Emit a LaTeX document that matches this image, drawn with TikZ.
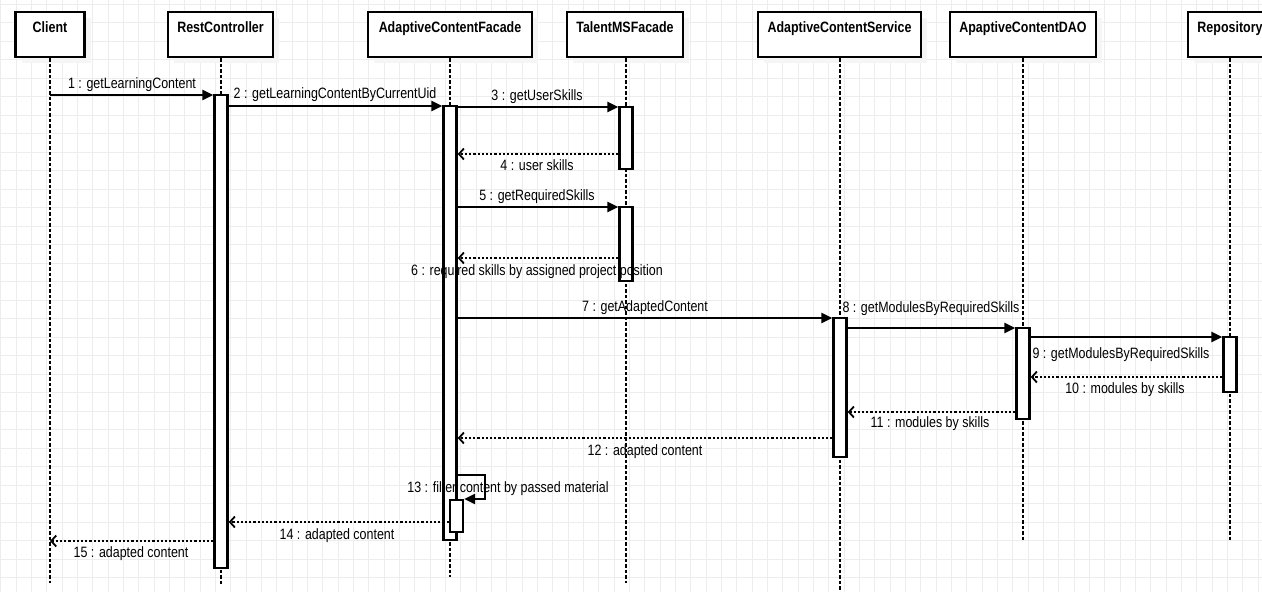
\documentclass[tikz,border=0pt]{standalone}
\usepackage{fontspec}
\setmainfont{Liberation Sans}[FakeStretch=0.83]
\usetikzlibrary{arrows.meta}
\tikzset{
  gridline/.style={draw=black!7, line width=0.7pt},
  actorbox/.style={draw=black, line width=2.4pt, fill=white, rectangle, inner sep=0pt, minimum height=45pt},
  actorshadow/.style={fill=black!4, draw=none, rectangle, inner sep=0pt, minimum height=45pt},
  actortitle/.style={anchor=base, inner sep=0pt, font=\fontsize{15}{18}\selectfont\bfseries},
  lifeline/.style={draw=black, line width=1.7pt, dash pattern=on 3.5pt off 2pt},
  actbox/.style={draw=black, line width=2.4pt, fill=white, rectangle, inner sep=0pt, minimum width=13pt},
  callmsg/.style={draw=black, line width=2.4pt, -{Triangle[length=11pt,width=10pt]}},
  retmsg/.style={draw=black, line width=2.4pt, dash pattern=on 2.2pt off 2pt, -{Straight Barb[length=5pt,width=11pt,line width=1.8pt]}},
  msglabel/.style={anchor=base, inner sep=0pt, font=\fontsize{15}{18}\selectfont}
}
\begin{document}
\begin{tikzpicture}[x=1pt,y=-1pt]
\useasboundingbox (0,0) rectangle (1262,592);
\fill[white] (0,0) rectangle (1262,592);
% grid
\foreach \i in {0,...,82} { \draw[gridline] (0.8+\i*15.33,0) -- (0.8+\i*15.33,592); }
\foreach \j in {0,...,32} { \draw[gridline] (0,4.2+\j*18.5) -- (1262,4.2+\j*18.5); }

% header shadows
\foreach \cx/\w in {50/69,220.5/105,450/164,625/116,839.5/163,1023/146,1230/84}
  { \node[actorshadow, minimum width=\w pt] at (\cx+6,34.5+6) {}; }

% header boxes
\node[actorbox, minimum width=69pt]  (client) at (50,34.5) {};
\node[actorbox, minimum width=105pt] (rest)   at (220.5,34.5) {};
\node[actorbox, minimum width=164pt] (facade) at (450,34.5) {};
\node[actorbox, minimum width=116pt] (talent) at (625,34.5) {};
\node[actorbox, minimum width=163pt] (service) at (839.5,34.5) {};
\node[actorbox, minimum width=146pt] (dao)    at (1023,34.5) {};
\node[actorbox, minimum width=84pt]  (repo)   at (1230,34.5) {};

\node[actortitle] (clientT)  at (50,32) {Client};
\node[actortitle] (restT)    at (220.5,32) {RestController};
\node[actortitle] (facadeT)  at (450,32) {AdaptiveContentFacade};
\node[actortitle] (talentT)  at (625,32) {TalentMSFacade};
\node[actortitle] (serviceT) at (839.5,32) {AdaptiveContentService};
\node[actortitle] (daoT)     at (1023,32) {ApaptiveContentDAO};
\node[actortitle] (repoT)    at (1230,32) {Repository};

% lifeline ends
\coordinate (clientE)  at (50,583);
\coordinate (restE)    at (221,584);
\coordinate (facadeE)  at (450,577);
\coordinate (talentE)  at (626,583);
\coordinate (serviceE) at (840,592);
\coordinate (daoE)     at (1023,542);
\coordinate (repoE)    at (1230,542);
\draw[lifeline] (client.south -| clientE) -- (clientE);
\draw[lifeline] (rest.south -| restE) -- (restE);
\draw[lifeline] (facade.south -| facadeE) -- (facadeE);
\draw[lifeline] (talent.south -| talentE) -- (talentE);
\draw[lifeline] (service.south -| serviceE) -- (serviceE);
\draw[lifeline] (dao.south -| daoE) -- (daoE);
\draw[lifeline] (repo.south -| repoE) -- (repoE);

% activations
\node[actbox, minimum height=473pt] (restA)  at (221,331.5) {};
\node[actbox, minimum height=434pt] (facA)   at (450,323) {};
\node[actbox, minimum height=32pt]  (facB)   at (456.5,516) {};
\node[actbox, minimum height=62pt]  (talA)   at (626,138) {};
\node[actbox, minimum height=74pt]  (talB)   at (626,244) {};
\node[actbox, minimum height=139pt] (svcA)   at (840,387.5) {};
\node[actbox, minimum height=91pt]  (daoA)   at (1023,373.5) {};
\node[actbox, minimum height=55pt]  (repA)   at (1230,364.5) {};

% message heights
\coordinate (y1) at (0,95);
\coordinate (y2) at (0,106);
\coordinate (y3) at (0,107);
\coordinate (y4) at (0,154);
\coordinate (y5) at (0,207);
\coordinate (y6) at (0,258);
\coordinate (y7) at (0,318);
\coordinate (y8) at (0,328);
\coordinate (y9) at (0,337);
\coordinate (y10) at (0,377);
\coordinate (y11) at (0,412);
\coordinate (y12) at (0,438);
\coordinate (y13a) at (0,475);
\coordinate (y13b) at (0,499);
\coordinate (loopx) at (485,0);
\coordinate (y14) at (0,522);
\coordinate (y15) at (0,541);

\draw[callmsg] (clientE |- y1) -- (restA.west |- y1);
\draw[callmsg] (restA.east |- y2) -- (facA.west |- y2);
\draw[callmsg] (facA.east |- y3) -- (talA.west |- y3);
\draw[retmsg]  (talA.west |- y4) -- (facA.east |- y4);
\draw[callmsg] (facA.east |- y5) -- (talB.west |- y5);
\draw[retmsg]  (talB.west |- y6) -- (facA.east |- y6);
\draw[callmsg] (facA.east |- y7) -- (svcA.west |- y7);
\draw[callmsg] (svcA.east |- y8) -- (daoA.west |- y8);
\draw[callmsg] (daoA.east |- y9) -- (repA.west |- y9);
\draw[retmsg]  (repA.west |- y10) -- (daoA.east |- y10);
\draw[retmsg]  (daoA.west |- y11) -- (svcA.east |- y11);
\draw[retmsg]  (svcA.west |- y12) -- (facA.east |- y12);
\draw[callmsg] (facA.east |- y13a) -- (loopx |- y13a) -- (loopx |- y13b) -- (facB.east |- y13b);
\draw[retmsg]  (facB.west |- y14) -- (restA.east |- y14);
\draw[retmsg]  (restA.west |- y15) -- (clientE |- y15);

% labels
\node[msglabel] (l1)  at (132,88.5)  {1 : getLearningContent};
\node[msglabel] (l2)  at (335,98.5)  {2 : getLearningContentByCurrentUid};
\node[msglabel] (l3)  at (537,100.5) {3 : getUserSkills};
\node[msglabel] (l4)  at (537,170.5) {4 : user skills};
\node[msglabel] (l5)  at (537,200.5) {5 : getRequiredSkills};
\node[msglabel] (l6)  at (537,275.5) {6 : required skills by assigned project position};
\node[msglabel] (l7)  at (645,311.5) {7 : getAdaptedContent};
\node[msglabel] (l8)  at (931,312.5) {8 : getModulesByRequiredSkills};
\node[msglabel] (l9)  at (1121,358.5) {9 : getModulesByRequiredSkills};
\node[msglabel] (l10) at (1125,393.5) {10 : modules by skills};
\node[msglabel] (l11) at (930,427.5) {11 : modules by skills};
\node[msglabel] (l12) at (645,455.5) {12 : adapted content};
\node[msglabel] (l13) at (508,492.5) {13 : filter content by passed material};
\node[msglabel] (l14) at (337,539.5) {14 : adapted content};
\node[msglabel] (l15) at (131,557.5) {15 : adapted content};
\end{tikzpicture}
\end{document}
